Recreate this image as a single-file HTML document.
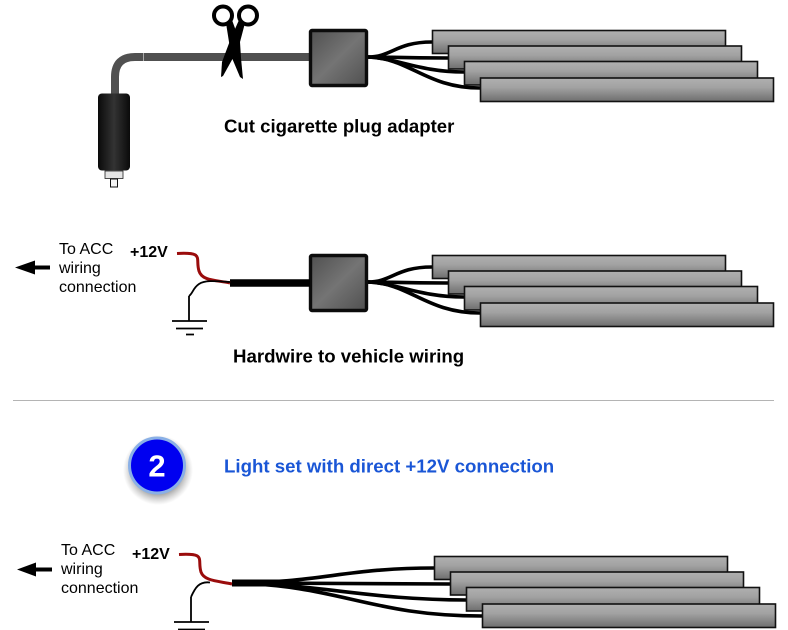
<!DOCTYPE html>
<html><head><meta charset="utf-8"><style>
html,body{margin:0;padding:0;background:#fff}
svg{display:block}
text{font-family:"Liberation Sans",sans-serif}
</style></head><body>
<svg width="788" height="630" viewBox="0 0 788 630" xmlns="http://www.w3.org/2000/svg">
<defs>
<linearGradient id="bar" x1="0" y1="0" x2="0" y2="1"><stop offset="0" stop-color="#b0b0b0"/><stop offset=".4" stop-color="#a2a2a2"/><stop offset="1" stop-color="#6e6e6e"/></linearGradient>
<linearGradient id="box" x1="0" y1="0" x2="1" y2="1"><stop offset="0" stop-color="#505050"/><stop offset=".5" stop-color="#747474"/><stop offset="1" stop-color="#505050"/></linearGradient>
<linearGradient id="plug" x1="0" y1="0" x2="1" y2="0"><stop offset="0" stop-color="#0a0a0a"/><stop offset=".5" stop-color="#333"/><stop offset="1" stop-color="#0a0a0a"/></linearGradient>
<radialGradient id="sh"><stop offset=".6" stop-color="#666" stop-opacity=".8"/><stop offset="1" stop-color="#999" stop-opacity="0"/></radialGradient>
<g id="bars" stroke="#111" stroke-width="1.6" fill="url(#bar)">
<rect x="432.5" y="30.5" width="293" height="23"/>
<rect x="448.5" y="46" width="293" height="23"/>
<rect x="464.5" y="61.5" width="293" height="23.5"/>
<rect x="480.5" y="78" width="293" height="23.5"/>
</g>
<g id="wires" fill="none" stroke="#000" stroke-width="3.6">
<path d="M368 57C392 57 396 42 432 42"/>
<path d="M368 57C390 57 400 58 448 58"/>
<path d="M368 57C396 58 420 72 464 72"/>
<path d="M368 57C410 58 426 88 480 88"/>
</g>
<g id="boxg"><rect x="310.500" y="30.500" width="56" height="55" rx="1.500" fill="url(#box)" stroke="#0c0c0c" stroke-width="3.400"/></g>
<g id="gnd" fill="none" stroke="#000"><path d="M189 321V296" stroke-width="1.800"/><path d="M172 321H207M176 328.500H203M186 334.500H194" stroke-width="1.800"/></g>
</defs>

<!-- Section 1 -->
<use href="#wires"/><use href="#bars"/>
<path d="M310 57H135Q115 57 115 77V96" fill="none" stroke="#505050" stroke-width="8"/>
<path d="M143.500 53V61" stroke="#aaa" stroke-width="1"/>
<use href="#boxg"/>
<rect x="98" y="93.500" width="32" height="77" rx="4" fill="url(#plug)"/>
<rect x="105" y="171" width="18" height="7.500" fill="#e4e4e4" stroke="#222" stroke-width=".8"/>
<rect x="110.500" y="179" width="7" height="8" fill="#f4f4f4" stroke="#111" stroke-width="1"/>
<!-- scissors -->
<path d="M227 52H238V62H227Z" fill="#fff"/>
<g fill="none" stroke="#000" stroke-width="4"><ellipse cx="223" cy="15.500" rx="9" ry="9"/><ellipse cx="248" cy="15.500" rx="9" ry="9"/></g>
<path d="M226 23L232 20L240 42L241 58L243 79L240 77L232 58L229 42Z" fill="#000"/>
<path d="M245 23L239 20L231 38L222 62L221 77L223 76L233 58L240 42Z" fill="#000"/>
<text x="224" y="132.500" font-size="18.600" font-weight="700">Cut cigarette plug adapter</text>

<!-- Section 2 -->
<g transform="translate(0,225)"><use href="#wires"/><use href="#bars"/><use href="#boxg"/></g>
<path d="M230 283H310" stroke="#000" stroke-width="7.500"/>
<path d="M177 253.500C205 252 195 258 199 271C202 281 216 280 230 283" fill="none" stroke="#9a0c0c" stroke-width="3"/>
<path d="M230 282C215 281 205 280 199 284C193 288 193 293 189 296" fill="none" stroke="#000" stroke-width="1.800"/>
<use href="#gnd"/>
<path d="M15 267.500L35 260.500V265.500H50V269.500H35V274.500Z" fill="#000"/>
<text x="59" y="254" font-size="16">To ACC</text>
<text x="59" y="273" font-size="16">wiring</text>
<text x="59" y="292" font-size="16">connection</text>
<text x="130" y="257" font-size="16" font-weight="700">+12V</text>
<text x="233" y="362.500" font-size="18.670" font-weight="700">Hardwire to vehicle wiring</text>

<path d="M13 400.500H774" stroke="#b4b4b4" stroke-width="1"/>

<!-- Badge -->
<ellipse cx="158" cy="470" rx="35" ry="35" fill="url(#sh)"/>
<circle cx="157" cy="465.500" r="27.500" fill="#0000f0" stroke="#8ab0e6" stroke-width="3"/>
<text x="157" y="476.500" font-size="31" font-weight="700" fill="#fff" text-anchor="middle">2</text>
<text x="224" y="472.500" font-size="18.670" font-weight="700" fill="#1a56d6">Light set with direct +12V connection</text>

<!-- Section 3 -->
<g fill="none" stroke="#000" stroke-width="3.600">
<path d="M232 583C320 583 345 568 434 568"/>
<path d="M232 583C300 583 360 584 450 584"/>
<path d="M232 583C320 584 370 600 466 600"/>
<path d="M232 583C340 585 370 616 482 616"/>
</g>
<path d="M232 579.500H285L300 582V585L285 586.500H232Z" fill="#000"/>
<g transform="translate(2,526)"><use href="#bars"/></g>
<path d="M179 554.500C207 553 197 559 201 572C204 581 218 581 232 584" fill="none" stroke="#9a0c0c" stroke-width="3"/>
<path d="M210 582.500C199 581 195 588 191 597" fill="none" stroke="#000" stroke-width="1.800"/>
<g transform="translate(2,301)"><use href="#gnd"/></g>
<path d="M17 569.500L36 562.500V567.500H52V571.500H36V576.500Z" fill="#000"/>
<text x="61" y="555" font-size="16">To ACC</text>
<text x="61" y="574" font-size="16">wiring</text>
<text x="61" y="593" font-size="16">connection</text>
<text x="132" y="559" font-size="16" font-weight="700">+12V</text>
</svg>
</body></html>
